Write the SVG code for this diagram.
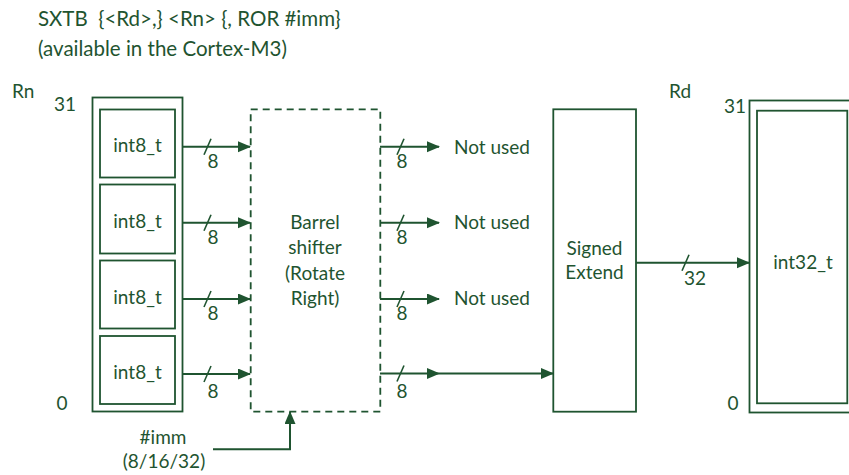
<svg xmlns="http://www.w3.org/2000/svg" width="849" height="475" viewBox="0 0 849 475">
<defs>
<marker id="ah" markerUnits="userSpaceOnUse" markerWidth="13" markerHeight="12" refX="12" refY="5.5" orient="auto"><path d="M0,0 L13,5.5 L0,11 z" fill="#1f5430"/></marker>
<style>
text{font-family:Lato,"Open Sans","Liberation Sans",sans-serif;fill:#1f5430;font-size:19px}
.t{font-size:20.5px}
.m{text-anchor:middle}
.box{fill:none;stroke:#1f5430;stroke-width:1.8}
.dash{fill:none;stroke:#1f5430;stroke-width:1.8;stroke-dasharray:7,5}
.ln{fill:none;stroke:#1f5430;stroke-width:2}
.sl{stroke:#1f5430;stroke-width:1.6}
</style>
</defs>
<g id="title">
<text x="38" y="26" class="t" xml:space="preserve">SXTB  {&lt;Rd&gt;,} &lt;Rn&gt; {, ROR #imm}</text>
<text x="38" y="56" class="t">(available in the Cortex-M3)</text>
</g>
<g id="rn">
<text x="12" y="98">Rn</text>
<text x="65" y="111" class="m">31</text>
<text x="62" y="410" class="m">0</text>
<rect class="box" x="92.5" y="97.5" width="90" height="314"/>
<g id="rn0"><rect class="box" x="100" y="109.5" width="75" height="68"/><text x="137.5" y="152" class="m">int8_t</text></g>
<g id="rn1"><rect class="box" x="100" y="184.5" width="75" height="69"/><text x="137.5" y="228" class="m">int8_t</text></g>
<g id="rn2"><rect class="box" x="100" y="260.5" width="75" height="68"/><text x="137.5" y="304" class="m">int8_t</text></g>
<g id="rn3"><rect class="box" x="100" y="336" width="75" height="68"/><text x="137.5" y="379" class="m">int8_t</text></g>
</g>
<g id="barrel">
<rect class="dash" x="250.7" y="109.3" width="129.6" height="302.4"/>
<text x="315" y="229" class="m">Barrel</text>
<text x="315" y="254" class="m">shifter</text>
<text x="315" y="280" class="m">(Rotate</text>
<text x="315" y="305" class="m">Right)</text>
</g>
<g id="signext">
<rect class="box" x="553.3" y="109.3" width="82.7" height="302.4"/>
<text x="594.5" y="255" class="m">Signed</text>
<text x="594.5" y="279" class="m">Extend</text>
</g>
<g id="rd">
<text x="680" y="98" class="m">Rd</text>
<text x="735" y="113" class="m">31</text>
<text x="733" y="410" class="m">0</text>
<rect class="box" x="749.5" y="100.5" width="120" height="312"/>
<rect class="box" x="757" y="110.7" width="90.3" height="292.6"/>
<text x="803" y="269" class="m">int32_t</text>
</g>
<g id="labels">
<text x="454" y="154">Not used</text>
<text x="454" y="229">Not used</text>
<text x="454" y="305">Not used</text>
<text x="163" y="444" class="m">#imm</text>
<text x="164" y="468" class="m">(8/16/32)</text>
<text x="213" y="168" class="m">8</text>
<text x="213" y="244" class="m">8</text>
<text x="213" y="320" class="m">8</text>
<text x="213" y="398" class="m">8</text>
<text x="402" y="168" class="m">8</text>
<text x="402" y="244" class="m">8</text>
<text x="402" y="320" class="m">8</text>
<text x="402" y="398" class="m">8</text>
<text x="695" y="285" class="m">32</text>
</g>
<g id="connectors">
<line class="ln" x1="183" y1="146.7" x2="250" y2="146.7" marker-end="url(#ah)"/>
<line class="ln" x1="183" y1="222.7" x2="250" y2="222.7" marker-end="url(#ah)"/>
<line class="ln" x1="183" y1="299" x2="250" y2="299" marker-end="url(#ah)"/>
<line class="ln" x1="183" y1="374" x2="250" y2="374" marker-end="url(#ah)"/>
<line class="ln" x1="380" y1="146.7" x2="439" y2="146.7" marker-end="url(#ah)"/>
<line class="ln" x1="380" y1="222.7" x2="439" y2="222.7" marker-end="url(#ah)"/>
<line class="ln" x1="380" y1="299" x2="439" y2="299" marker-end="url(#ah)"/>
<line class="ln" x1="380" y1="373.5" x2="439" y2="373.5" marker-end="url(#ah)"/>
<line class="ln" x1="439" y1="373.5" x2="553" y2="373.5" marker-end="url(#ah)"/>
<line class="ln" x1="636" y1="262.7" x2="749" y2="262.7" marker-end="url(#ah)"/>
<polyline class="ln" points="213,449.3 290,449.3 290,412" marker-end="url(#ah)"/>
<line class="sl" x1="204" y1="154.7" x2="211" y2="138.7"/>
<line class="sl" x1="204" y1="230.7" x2="211" y2="214.7"/>
<line class="sl" x1="204" y1="307" x2="211" y2="291"/>
<line class="sl" x1="204" y1="382" x2="211" y2="366"/>
<line class="sl" x1="397" y1="154.7" x2="404" y2="138.7"/>
<line class="sl" x1="397" y1="230.7" x2="404" y2="214.7"/>
<line class="sl" x1="397" y1="307" x2="404" y2="291"/>
<line class="sl" x1="397" y1="381.5" x2="404" y2="365.5"/>
<line class="sl" x1="682" y1="270.7" x2="689" y2="254.7"/>
</g>
</svg>
